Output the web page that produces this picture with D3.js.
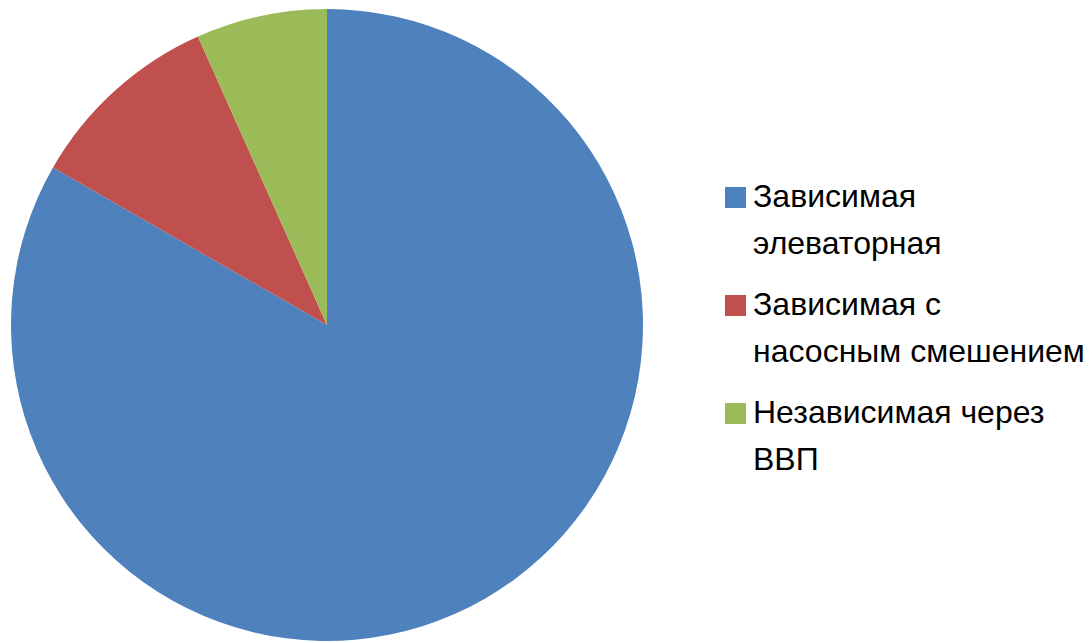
<!DOCTYPE html>
<html>
<head>
<meta charset="utf-8">
<script src="https://cdn.jsdelivr.net/npm/d3@7"></script>
<style>
  html, body { margin: 0; padding: 0; background: #fff; }
  svg { display: block; }
  text { font-family: "Liberation Sans", Arial, sans-serif; fill: #000; }
</style>
</head>
<body>
<svg id="chart" width="1092" height="643"></svg>
<script>
// Heating system connection types, share of buildings (%)
const categories = ["Зависимая элеваторная", "Зависимая с насосным смешением", "Независимая через ВВП"];
const legendLines = [["Зависимая", "элеваторная"], ["Зависимая с", "насосным смешением"], ["Независимая через", "ВВП"]];
const shares = [83.3, 10.0, 6.7];
const colors = ["#4F81BD", "#C0504D", "#9BBB59"];

const svg = d3.select("#chart");
const cx = 327, cy = 325, radius = 316;

const pie = d3.pie().sort(null).value(d => d)(shares);
const arc = d3.arc().innerRadius(0).outerRadius(radius);
const color = d3.scaleOrdinal().domain(categories).range(colors);

svg.append("g")
  .attr("transform", `translate(${cx},${cy})`)
  .selectAll("path")
  .data(pie)
  .join("path")
  .attr("d", arc)
  .attr("fill", (d, i) => color(categories[i]));

// Legend: a square swatch plus a two-line label per category
const legend = svg.append("g").attr("transform", "translate(725,0)");
const baseY = 207, itemStep = 108, lineGap = 47;
const items = legend.selectAll("g.item")
  .data(categories)
  .join("g")
  .attr("class", "item")
  .attr("transform", (d, i) => `translate(0,${baseY + i * itemStep})`);

items.append("rect")
  .attr("y", -20)
  .attr("width", 21).attr("height", 21)
  .attr("fill", d => color(d));

items.append("text")
  .attr("font-size", 32)
  .selectAll("tspan")
  .data((d, i) => legendLines[i])
  .join("tspan")
  .attr("x", 28)
  .attr("y", (d, j) => j * lineGap)
  .text(d => d);
</script>
</body>
</html>
